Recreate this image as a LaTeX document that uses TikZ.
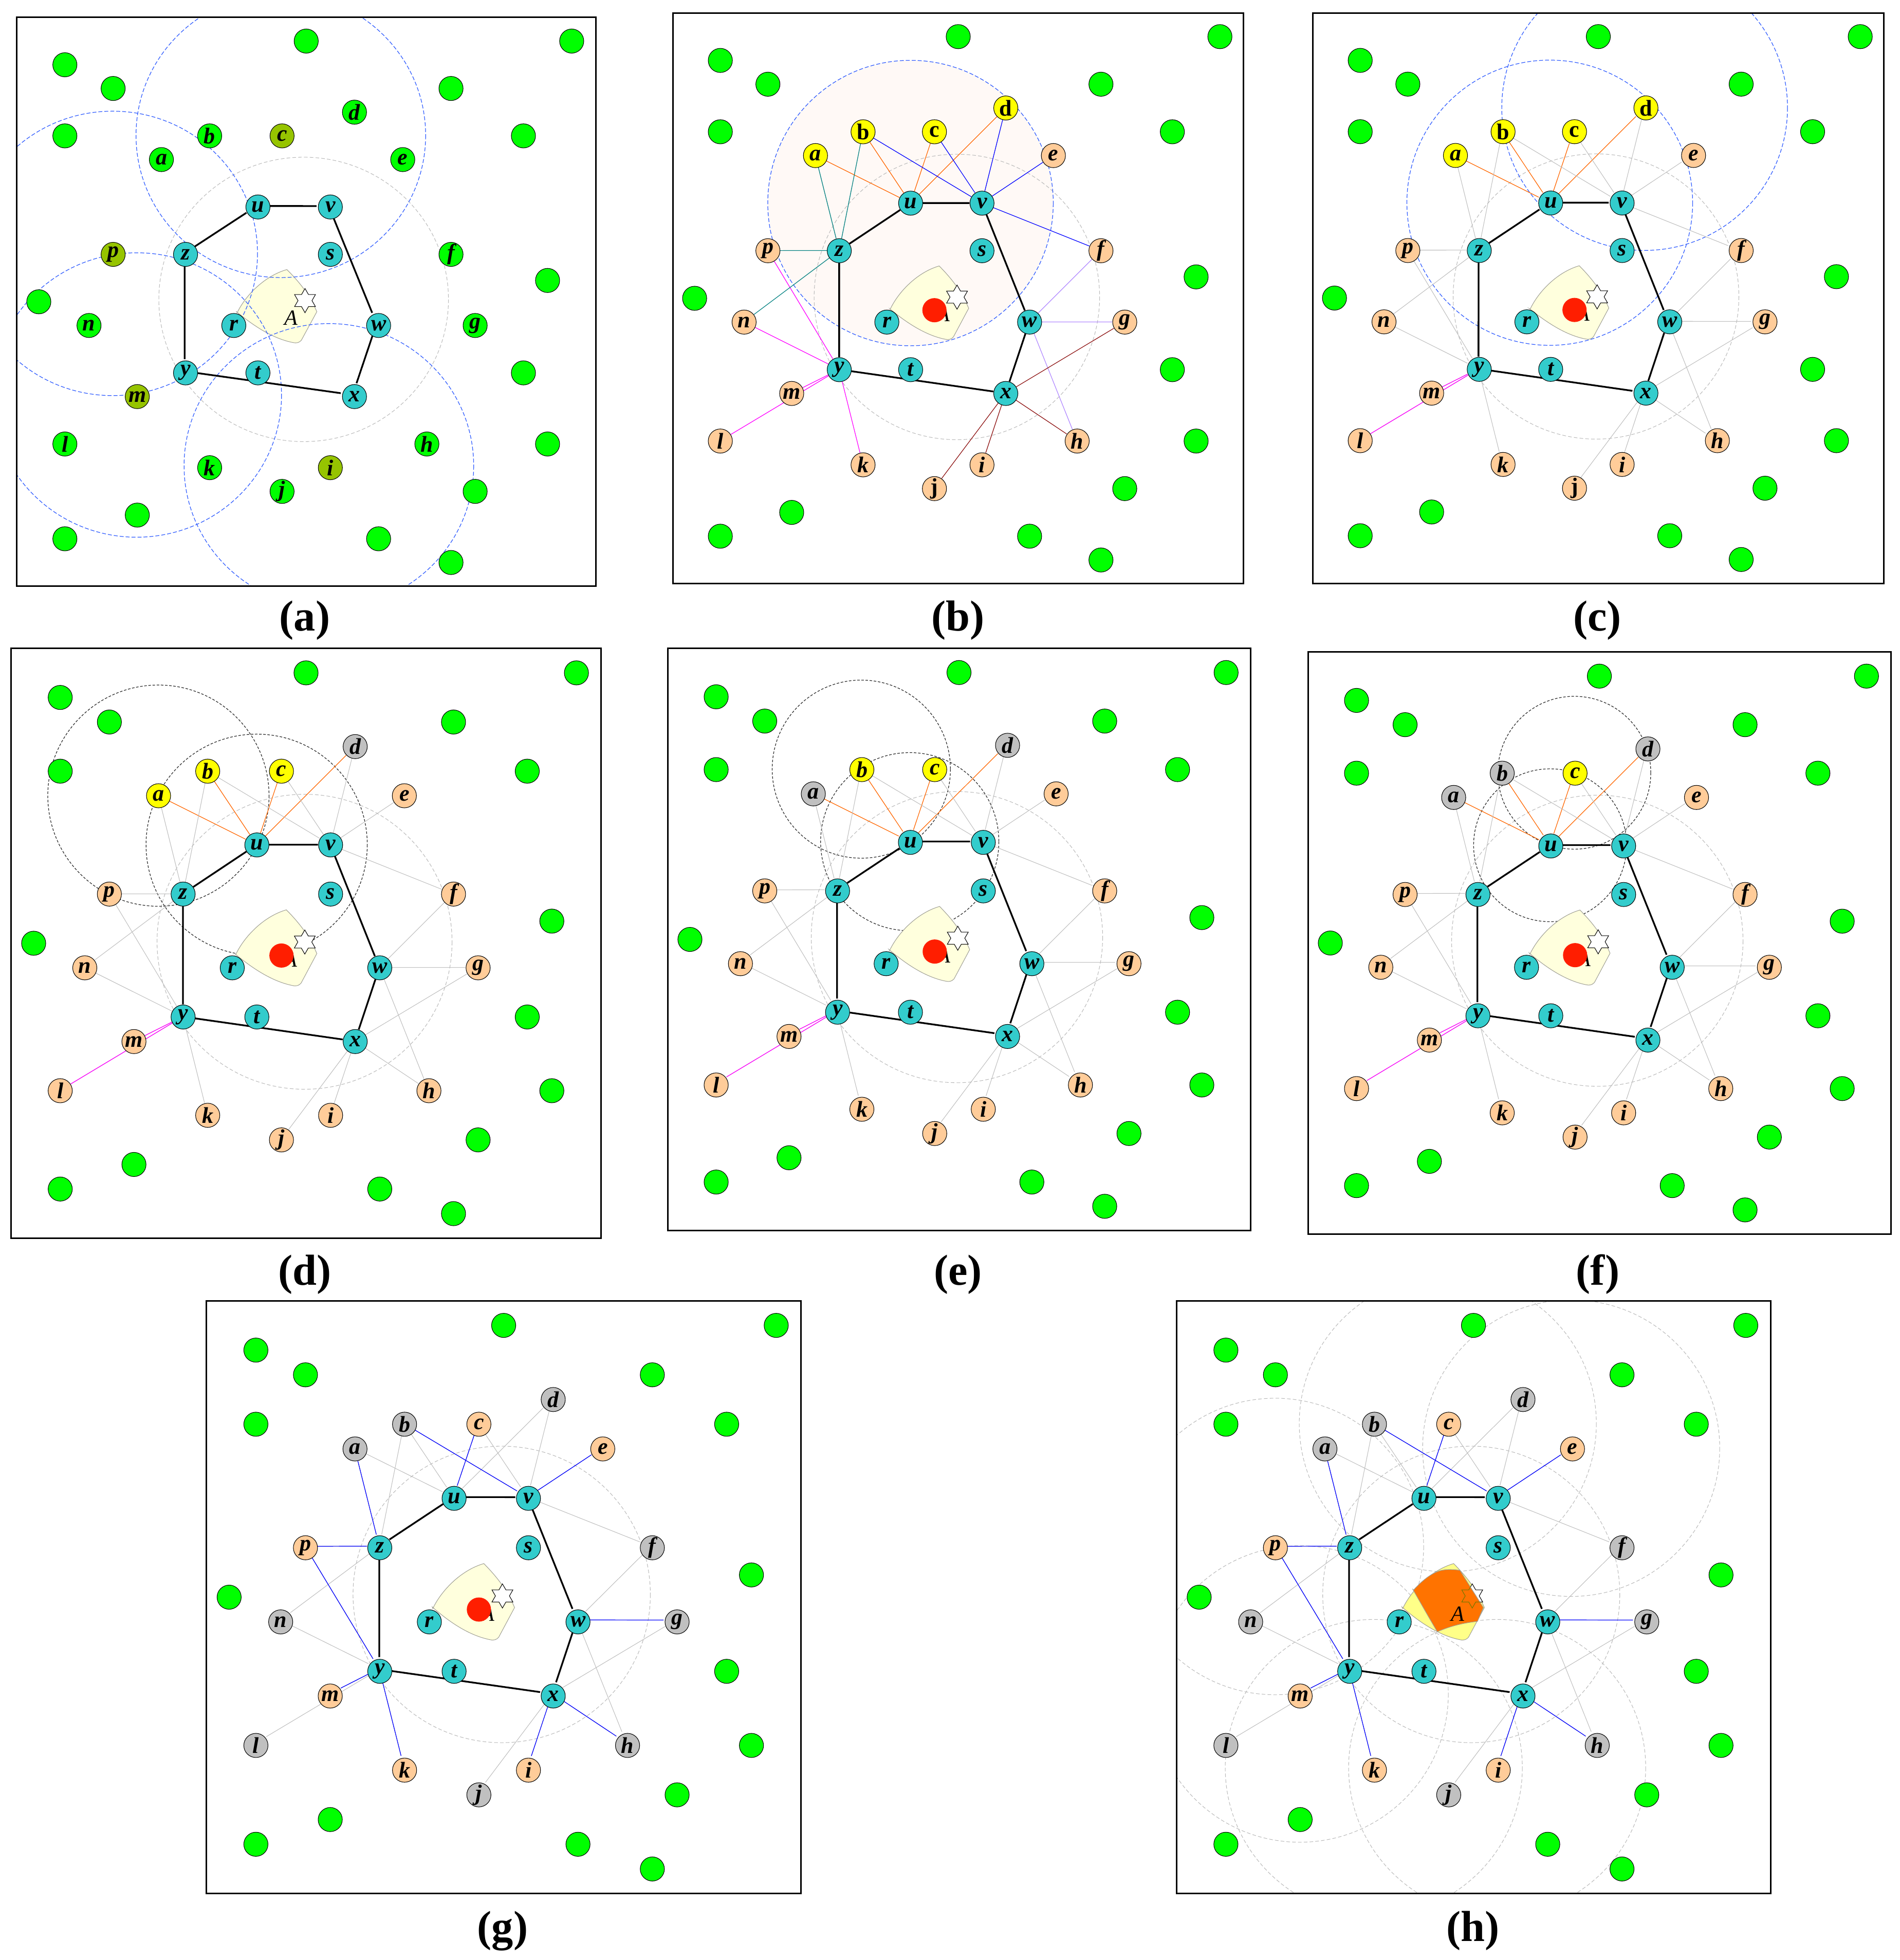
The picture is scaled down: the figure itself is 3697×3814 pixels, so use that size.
\documentclass[tikz,border=0pt]{standalone}
\usepackage{fontspec}
\setmainfont{Liberation Serif}
\usetikzlibrary{shapes.geometric}
\pgfdeclarelayer{circ}
\pgfdeclarelayer{edges}
\pgfsetlayers{circ,edges,main}
\definecolor{cgreen}{RGB}{0,255,0}
\definecolor{colive}{RGB}{150,196,0}
\definecolor{ccyan}{RGB}{51,204,204}
\definecolor{cyel}{RGB}{255,255,0}
\definecolor{cpeach}{RGB}{255,204,153}
\definecolor{cgrayn}{RGB}{192,192,192}
\definecolor{cred}{RGB}{255,30,0}
\definecolor{corange}{RGB}{255,102,0}
\definecolor{cblue}{RGB}{0,0,255}
\definecolor{clav}{RGB}{176,136,255}
\definecolor{cdred}{RGB}{140,16,16}
\definecolor{cmag}{RGB}{255,0,255}
\definecolor{cteal}{RGB}{0,128,128}
\definecolor{cedge}{RGB}{190,190,190}
\definecolor{ccirc}{RGB}{185,185,185}
\definecolor{cbcirc}{RGB}{45,90,255}
\definecolor{ckcirc}{RGB}{40,40,40}
\definecolor{cpink}{RGB}{255,249,246}
\definecolor{creg}{RGB}{255,255,221}
\definecolor{cregl}{RGB}{160,160,150}
\definecolor{cyreg}{RGB}{255,255,136}
\definecolor{coreg}{RGB}{255,115,0}
\definecolor{cstarol}{RGB}{110,120,0}
\newcommand\nlfont{\fontsize{12.5}{12.5}\selectfont\bfseries\itshape}
\newcommand\nufont{\fontsize{12.5}{12.5}\selectfont\bfseries}
\tikzset{
  nbase/.style={circle, draw=black, line width=0.3pt, minimum size=0.47cm, inner sep=0pt, font=\nlfont},
  Ngreen/.style={nbase, fill=cgreen},
  Nolive/.style={nbase, fill=colive},
  Ncyan/.style={nbase, fill=ccyan},
  Nyellow/.style={nbase, fill=cyel},
  Npeach/.style={nbase, fill=cpeach},
  Ngray/.style={nbase, fill=cgrayn},
  upr/.style={font=\nufont},
  allgreen/.style={sa/.style=Ngreen,sb/.style=Ngreen,sc/.style=Ngreen,sd/.style=Ngreen,se/.style=Ngreen,sf/.style=Ngreen,sg/.style=Ngreen,sh/.style=Ngreen,si/.style=Ngreen,sj/.style=Ngreen,sk/.style=Ngreen,sl/.style=Ngreen,sm/.style=Ngreen,sn/.style=Ngreen,sp/.style=Ngreen},
  allpeach/.style={sa/.style=Npeach,sb/.style=Npeach,sc/.style=Npeach,sd/.style=Npeach,se/.style=Npeach,sf/.style=Npeach,sg/.style=Npeach,sh/.style=Npeach,si/.style=Npeach,sj/.style=Npeach,sk/.style=Npeach,sl/.style=Npeach,sm/.style=Npeach,sn/.style=Npeach,sp/.style=Npeach},
  hexe/.style={line width=0.95pt, draw=black},
  Eg/.style={line width=0.3pt, draw=cedge},
  Eo/.style={line width=0.35pt, draw=corange},
  Eb/.style={line width=0.35pt, draw=cblue},
  El/.style={line width=0.35pt, draw=clav},
  Er/.style={line width=0.35pt, draw=cdred},
  Em/.style={line width=0.35pt, draw=cmag},
  Et/.style={line width=0.35pt, draw=cteal},
  cgc/.style={line width=0.3pt, draw=ccirc, dash pattern=on 2pt off 1.2pt},
  cbc/.style={line width=0.35pt, draw=cbcirc, dash pattern=on 2.2pt off 1.1pt},
  ckc/.style={line width=0.35pt, draw=ckcirc, dash pattern=on 1.4pt off 0.9pt},
  boxs/.style={line width=0.85pt, draw=black},
  Areg/.style={fill=creg, draw=cregl, line width=0.3pt},
  Yreg/.style={fill=cyreg, draw=cregl, line width=0.3pt},
  Oreg/.style={fill=coreg, draw=cregl, line width=0.3pt},
  starn/.style={star, star points=6, star point ratio=1.732, minimum size=0.47cm, inner sep=0pt, draw=black, fill=white, line width=0.3pt},
  Alab/.style={font=\fontsize{12}{12}\selectfont\itshape, inner sep=0pt},
  rdot/.style={circle, fill=cred, minimum size=0.47cm, inner sep=0pt},
  capf/.style={font=\fontsize{24}{28}\selectfont\bfseries, inner sep=0pt}
}
\newcommand\greens[1]{%
  \foreach \gx/\gy [count=\k] in {12/1,23/1,2/2,4/3,18/3,2/5,21/5,22/11.1,0.92/12,21/15,22/18,19/20,5/21,2/22,15/22,18/23}{\node[Ngreen] (#1g\k) at (\gx,\gy) {};}}
\newcommand\hexa[1]{%
  \foreach \n/\x/\y in {u/10/8,v/13/8,z/7/10,s/13/10,r/9/13,w/15/13,y/7/15,t/10/15,x/14/16}{\node[Ncyan] (#1\n) at (\x,\y) {\n};}
  \begin{pgfonlayer}{edges}
  \draw[hexe] (#1u) -- (#1v);
  \draw[hexe] (#1v) -- (#1w);
  \draw[hexe] (#1w) -- (#1x);
  \draw[hexe] (#1x) -- (#1y);
  \draw[hexe] (#1y) -- (#1z);
  \draw[hexe] (#1z) -- (#1u);
  \end{pgfonlayer}}
\newcommand\periph[1]{%
  \foreach \n/\x/\y in {a/6/6,b/8/5,c/11/5,d/14/4,e/16/6,f/18/10,g/19/13,h/17/18,i/13/19,j/11/20,k/8/19,l/2/18,m/5/16,n/3/13,p/4/10}{\node[s\n] (#1\n) at (\x,\y) {\n};}}
\newcommand\staredges[7]{%
  \begin{pgfonlayer}{edges}
  \foreach \q in {a,b,c,d}{\draw[#2] (#1u) -- (#1\q);}
  \foreach \q in {b,c,d,e,f}{\draw[#3] (#1v) -- (#1\q);}
  \foreach \q in {f,g,h}{\draw[#4] (#1w) -- (#1\q);}
  \foreach \q in {g,h,i,j}{\draw[#5] (#1x) -- (#1\q);}
  \foreach \q in {p,n,m,l,k}{\draw[#6] (#1y) -- (#1\q);}
  \foreach \q in {a,b,n,p}{\draw[#7] (#1z) -- (#1\q);}
  \end{pgfonlayer}}
\newcommand\magovr[1]{%
  \begin{pgfonlayer}{edges}
  \draw[Em] (#1y) -- (#1m);
  \draw[Em] (#1y) -- (#1l);
  \end{pgfonlayer}}
\newcommand\blueovr[1]{%
  \begin{pgfonlayer}{edges}
  \foreach \hh/\q in {u/c,v/b,v/e,w/g,x/h,x/i,y/p,y/m,y/k,z/a,z/p}{\draw[Eb] (#1\hh) -- (#1\q);}
  \end{pgfonlayer}}
\newcommand\Apath{(9.14,12.46) .. controls (9.5,11.7) and (10.3,10.9) .. (11.2,10.64) .. controls (11.6,11.05) and (12.1,11.6) .. (12.44,12.42) -- (11.8,13.62) .. controls (11.72,13.72) and (11.6,13.76) .. (11.45,13.72) .. controls (10.6,13.55) and (9.8,13.0) .. cycle}
\newcommand\Opath{(9.57,11.72) .. controls (9.9,11.35) and (10.3,11.02) .. (10.68,10.92) .. controls (10.95,10.86) and (11.2,10.88) .. (11.45,10.91) -- (12.4,12.42) -- (12.16,12.98) .. controls (11.5,13.05) and (11.0,13.2) .. (10.54,13.4) .. controls (10.3,13.0) and (9.9,12.3) .. cycle}
\begin{document}
\begin{tikzpicture}[x=0.01cm, y=-0.01cm]
\useasboundingbox (0,0) rectangle (3697,3814);
% ---------------- (a)
\begin{scope}[shift={(32.3,33.8)}, xscale=46.96, yscale=46.12]
\tikzset{allgreen, sc/.style=Nolive, sp/.style=Nolive, sm/.style=Nolive, si/.style=Nolive}
\node[starn] (A-star) at (11.95,11.95) {};
\node[Alab] (A-lab) at (11.37,12.67) {A};
\greens{A}\periph{A}\hexa{A}
\begin{pgfonlayer}{circ}
  \fill[Areg] \Apath;
  \begin{scope}
    \clip (0,0) rectangle (24,24);
    \draw[cgc] (A-star) circle [radius=6];
    \foreach \q in {c,p,m,i}{\draw[cbc] (A\q) circle [radius=6];}
  \end{scope}
\end{pgfonlayer}
\draw[boxs] (0,0) rectangle (24,24);
\end{scope}
% ---------------- (b)
\begin{scope}[shift={(1309,25)}, xscale=46.29, yscale=46.29]
\tikzset{allpeach, sa/.style=Nyellow, sb/.style={Nyellow,upr}, sc/.style={Nyellow,upr}, sd/.style={Nyellow,upr}, sj/.style={Npeach,upr}}
\fill[Areg] \Apath;
\node[starn] (B-star) at (11.95,11.95) {};
\node[Alab] (B-lab) at (11.37,12.67) {A};
\node[rdot] (B-dot) at (11,12.5) {};
\greens{B}\periph{B}\hexa{B}
\staredges{B}{Eo}{Eb}{El}{Er}{Em}{Et}
\begin{pgfonlayer}{circ}
  \fill[cpink] (Bu) circle [radius=6];
  \draw[cgc] (B-star) circle [radius=6];
  \draw[cbc] (Bu) circle [radius=6];
\end{pgfonlayer}
\draw[boxs] (0,0) rectangle (24,24);
\end{scope}
% ---------------- (c)
\begin{scope}[shift={(2554,25)}, xscale=46.33, yscale=46.25]
\tikzset{allpeach, sa/.style=Nyellow, sb/.style={Nyellow,upr}, sc/.style={Nyellow,upr}, sd/.style={Nyellow,upr}, sj/.style={Npeach,upr}}
\fill[Areg] \Apath;
\node[starn] (C-star) at (11.95,11.95) {};
\node[Alab] (C-lab) at (11.37,12.67) {A};
\node[rdot] (C-dot) at (11,12.5) {};
\greens{C}\periph{C}\hexa{C}
\staredges{C}{Eo}{Eg}{Eg}{Eg}{Eg}{Eg}
\magovr{C}
\begin{pgfonlayer}{circ}
  \begin{scope}
    \clip (0,0) rectangle (24,24);
    \draw[cgc] (C-star) circle [radius=6];
    \draw[cbc] (Cu) circle [radius=6];
    \draw[cbc] (Cd) circle [radius=6];
  \end{scope}
\end{pgfonlayer}
\draw[boxs] (0,0) rectangle (24,24);
\end{scope}
% ---------------- (d)
\begin{scope}[shift={(21.5,1261.5)}, xscale=47.83, yscale=47.83]
\tikzset{allpeach, sa/.style=Nyellow, sb/.style=Nyellow, sc/.style=Nyellow, sd/.style=Ngray}
\fill[Areg] \Apath;
\node[starn] (D-star) at (11.95,11.95) {};
\node[Alab] (D-lab) at (11.37,12.67) {A};
\node[rdot] (D-dot) at (11,12.5) {};
\greens{D}\periph{D}\hexa{D}
\staredges{D}{Eo}{Eg}{Eg}{Eg}{Eg}{Eg}
\magovr{D}
\begin{pgfonlayer}{circ}
  \draw[cgc] (D-star) circle [radius=6];
  \draw[ckc] (Da) circle [radius=4.5];
  \draw[ckc] (Du) circle [radius=4.5];
\end{pgfonlayer}
\draw[boxs] (0,0) rectangle (24,24);
\end{scope}
% ---------------- (e)
\begin{scope}[shift={(1299,1261.5)}, xscale=47.25, yscale=47.21]
\tikzset{allpeach, sa/.style=Ngray, sb/.style=Nyellow, sc/.style=Nyellow, sd/.style=Ngray}
\fill[Areg] \Apath;
\node[starn] (E-star) at (11.95,11.95) {};
\node[Alab] (E-lab) at (11.37,12.67) {A};
\node[rdot] (E-dot) at (11,12.5) {};
\greens{E}\periph{E}\hexa{E}
\staredges{E}{Eo}{Eg}{Eg}{Eg}{Eg}{Eg}
\magovr{E}
\begin{pgfonlayer}{circ}
  \draw[cgc] (E-star) circle [radius=6];
  \draw[ckc] (Eb) circle [radius=3.67];
  \draw[ckc] (Eu) circle [radius=3.67];
\end{pgfonlayer}
\draw[boxs] (0,0) rectangle (24,24);
\end{scope}
% ---------------- (f)
\begin{scope}[shift={(2545,1268.5)}, xscale=47.25, yscale=47.21]
\tikzset{allpeach, sa/.style=Ngray, sb/.style=Ngray, sc/.style=Nyellow, sd/.style=Ngray}
\fill[Areg] \Apath;
\node[starn] (F-star) at (11.95,11.95) {};
\node[Alab] (F-lab) at (11.37,12.67) {A};
\node[rdot] (F-dot) at (11,12.5) {};
\greens{F}\periph{F}\hexa{F}
\staredges{F}{Eo}{Eg}{Eg}{Eg}{Eg}{Eg}
\magovr{F}
\begin{pgfonlayer}{circ}
  \draw[cgc] (F-star) circle [radius=6];
  \draw[ckc] (Fc) circle [radius=3.15];
  \draw[ckc] (Fu) circle [radius=3.15];
\end{pgfonlayer}
\draw[boxs] (0,0) rectangle (24,24);
\end{scope}
% ---------------- (g)
\begin{scope}[shift={(401.5,2531)}, xscale=48.21, yscale=48.08]
\tikzset{allpeach, sa/.style=Ngray, sb/.style=Ngray, sd/.style=Ngray, sf/.style=Ngray, sg/.style=Ngray, sh/.style=Ngray, sj/.style=Ngray, sl/.style=Ngray, sn/.style=Ngray}
\fill[Areg] \Apath;
\node[starn] (G-star) at (11.95,11.95) {};
\node[Alab] (G-lab) at (11.37,12.67) {A};
\node[rdot] (G-dot) at (11,12.5) {};
\greens{G}\periph{G}\hexa{G}
\staredges{G}{Eg}{Eg}{Eg}{Eg}{Eg}{Eg}
\blueovr{G}
\begin{pgfonlayer}{circ}
  \draw[cgc] (G-star) circle [radius=6];
\end{pgfonlayer}
\draw[boxs] (0,0) rectangle (24,24);
\end{scope}
% ---------------- (h)
\begin{scope}[shift={(2289,2531)}, xscale=48.17, yscale=48.08]
\tikzset{allpeach, sa/.style=Ngray, sb/.style=Ngray, sd/.style=Ngray, sf/.style=Ngray, sg/.style=Ngray, sh/.style=Ngray, sj/.style=Ngray, sl/.style=Ngray, sn/.style=Ngray}
\fill[Yreg] \Apath;
\node[starn] (H-star) at (11.95,11.95) {};
\fill[Oreg] \Opath;
\begin{scope}
  \clip \Opath;
  \node[starn, draw=cstarol, fill=none] (H-star2) at (11.95,11.95) {};
\end{scope}
\node[Alab] (H-lab) at (11.37,12.67) {A};
\greens{H}\periph{H}\hexa{H}
\staredges{H}{Eg}{Eg}{Eg}{Eg}{Eg}{Eg}
\blueovr{H}
\begin{pgfonlayer}{circ}
  \begin{scope}
    \clip (0,0) rectangle (24,24);
    \draw[cgc] (H-star) circle [radius=6];
    \foreach \q in {c,e,i,k,m,p}{\draw[cgc] (H\q) circle [radius=6];}
  \end{scope}
\end{pgfonlayer}
\draw[boxs] (0,0) rectangle (24,24);
\end{scope}
% ---------------- captions
\node[capf] (cap-a) at (593,1207) {(a)};
\node[capf] (cap-b) at (1864,1207) {(b)};
\node[capf] (cap-c) at (3108,1207) {(c)};
\node[capf] (cap-d) at (593,2480) {(d)};
\node[capf] (cap-e) at (1864,2480) {(e)};
\node[capf] (cap-f) at (3109,2480) {(f)};
\node[capf] (cap-g) at (978,3757) {(g)};
\node[capf] (cap-h) at (2866,3757) {(h)};
\end{tikzpicture}
\end{document}
